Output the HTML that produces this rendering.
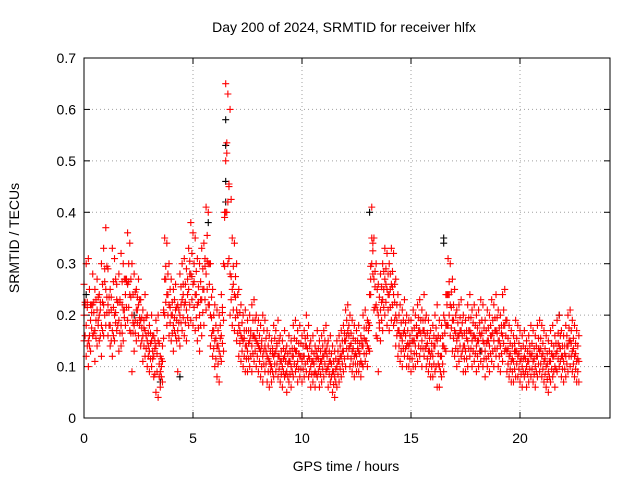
<!DOCTYPE html>
<html><head><meta charset="utf-8"><style>
html,body{margin:0;padding:0;background:#fff}
svg{display:block;font-family:"Liberation Sans",sans-serif}
</style></head><body>
<svg id="chart" width="640" height="480">
<rect width="640" height="480" fill="#fff"/>
<text x="344" y="32" text-anchor="middle" font-size="14">Day 200 of 2024, SRMTID for receiver hlfx</text>
<text x="346" y="471" text-anchor="middle" font-size="14">GPS time / hours</text>
<text transform="translate(19,238) rotate(-90)" text-anchor="middle" font-size="14">SRMTID / TECUs</text>
<g id="grid"></g><g id="ticks"></g><g id="marks"></g>
<rect x="84" y="58" width="526" height="360" fill="none" stroke="#000" stroke-width="1"/>
</svg>
<script>
const xTicks=[0,5,10,15,20];
const yTicks=[0,0.1,0.2,0.3,0.4,0.5,0.6,0.7];
const yTickLabels=["0","0.1","0.2","0.3","0.4","0.5","0.6","0.7"];
const hiVals=[.26,.30,.31,.22,.28,.25,.27,.24,.30,.33,
.37,.29,.25,.33,.31,.26,.28,.32,.30,.27,
.36,.34,.30,.28,.25,.27,.23,.21,.24,.20,
.18,.20,.16,.19,.20,.12,.14,.35,.34,.30,
.27,.25,.26,.22,.28,.30,.31,.29,.33,.38,
.36,.35,.31,.30,.33,.34,.41,.40,.30,.25,
.22,.21,.20,.24,.30,.65,.63,.60,.35,.34,
.30,.25,.22,.20,.21,.19,.20,.22,.23,.20,
.19,.18,.20,.19,.17,.16,.15,.18,.17,.19,
.16,.15,.17,.14,.16,.15,.18,.19,.17,.18,
.16,.17,.20,.18,.15,.16,.14,.17,.15,.16,
.17,.18,.15,.16,.14,.13,.15,.16,.17,.18,
.21,.22,.20,.19,.18,.17,.18,.16,.20,.21,
.19,.24,.41,.35,.30,.26,.28,.30,.33,.32,
.30,.33,.32,.27,.24,.22,.21,.23,.20,.19,
.19,.21,.20,.22,.23,.21,.24,.20,.19,.17,
.18,.20,.22,.19,.18,.20,.24,.31,.30,.27,
.25,.21,.22,.23,.20,.19,.22,.24,.21,.22,
.20,.21,.23,.22,.19,.21,.20,.23,.22,.24,
.21,.20,.24,.25,.19,.18,.17,.16,.19,.18,
.17,.16,.17,.15,.16,.18,.17,.16,.18,.19,
.18,.17,.16,.15,.17,.18,.16,.19,.20,.17,
.16,.18,.20,.21,.19,.18,.17,.16];
const midVals=[.20,.18,.15,.19,.22,.17,.21,.20,.18,.22,
.25,.22,.18,.17,.20,.23,.19,.18,.21,.24,
.26,.24,.20,.18,.21,.22,.19,.16,.17,.15,
.13,.15,.12,.14,.15,.09,.11,.27,.24,.22,
.20,.18,.21,.17,.20,.23,.22,.21,.25,.28,
.26,.24,.22,.20,.23,.25,.28,.30,.20,.17,
.15,.14,.13,.16,.19,.50,.42,.28,.25,.24,
.21,.18,.16,.15,.14,.13,.15,.14,.16,.15,
.14,.13,.12,.14,.12,.11,.10,.12,.13,.12,
.11,.10,.12,.09,.11,.10,.12,.13,.11,.12,
.11,.12,.14,.12,.10,.11,.09,.12,.10,.11,
.12,.13,.10,.11,.09,.08,.10,.11,.12,.13,
.15,.17,.14,.13,.12,.12,.13,.11,.14,.15,
.14,.18,.35,.27,.22,.20,.21,.23,.27,.25,
.24,.26,.24,.20,.17,.16,.15,.17,.14,.14,
.13,.15,.14,.16,.17,.15,.17,.14,.13,.12,
.12,.14,.15,.10,.12,.14,.18,.24,.22,.19,
.17,.15,.16,.17,.14,.13,.15,.17,.15,.16,
.14,.15,.16,.15,.13,.15,.14,.16,.15,.17,
.15,.14,.16,.18,.13,.12,.11,.11,.13,.12,
.11,.10,.12,.10,.11,.12,.11,.10,.12,.13,
.12,.11,.10,.09,.11,.12,.10,.13,.14,.12,
.11,.12,.14,.15,.13,.12,.11,.11];
const loVals=[.15,.12,.10,.13,.16,.11,.14,.15,.12,.16,
.18,.16,.14,.12,.15,.17,.13,.14,.15,.18,
.19,.17,.09,.13,.15,.16,.14,.11,.12,.10,
.09,.10,.08,.05,.04,.06,.07,.20,.18,.16,
.15,.13,.16,.09,.14,.17,.16,.15,.18,.19,
.18,.17,.15,.13,.16,.18,.21,.22,.14,.12,
.10,.08,.07,.11,.13,.40,.30,.20,.18,.17,
.15,.12,.11,.10,.09,.09,.10,.09,.11,.10,
.09,.08,.07,.09,.07,.06,.07,.08,.09,.08,
.07,.06,.08,.05,.07,.06,.08,.09,.07,.08,
.07,.08,.09,.08,.06,.07,.06,.08,.06,.07,
.08,.09,.06,.07,.05,.04,.06,.07,.08,.09,
.10,.12,.10,.09,.08,.09,.09,.08,.10,.11,
.10,.13,.30,.21,.16,.09,.15,.17,.20,.18,
.17,.19,.18,.14,.12,.11,.10,.12,.10,.10,
.09,.10,.10,.11,.12,.10,.12,.10,.09,.08,
.08,.09,.06,.06,.08,.09,.13,.18,.16,.13,
.12,.10,.11,.12,.09,.09,.10,.12,.10,.11,
.09,.10,.11,.10,.08,.10,.09,.11,.10,.12,
.10,.09,.11,.13,.09,.08,.07,.07,.08,.08,
.07,.06,.08,.06,.07,.08,.07,.06,.08,.09,
.08,.07,.06,.05,.07,.08,.06,.09,.10,.08,
.07,.08,.09,.10,.09,.08,.07,.07];
const blackHours=[6.5,6.5,6.5,6.5,5.7,16.5,16.5,13.1,21.8,3.5,0.1,4.4,2.3,18.2];
const blackVals=[.58,.53,.46,.42,.38,.35,.34,.40,.20,.07,.24,.08,.20,.13];

const NS="http://www.w3.org/2000/svg";
const X=h=>84+h*21.8;
const Y=v=>418-v*514.3;
const grid=document.getElementById('grid'),ticks=document.getElementById('ticks'),marks=document.getElementById('marks');
function mk(tag,attrs,parent){const e=document.createElementNS(NS,tag);for(const k in attrs)e.setAttribute(k,attrs[k]);parent.appendChild(e);return e;}
xTicks.forEach(t=>{
  const x=X(t);
  if(t>0){const g=mk('line',{x1:x,x2:x,y1:58,y2:418,stroke:'#a0a0a0','stroke-dasharray':'1,3'},grid);
  
  }
  mk('line',{x1:x,x2:x,y1:418,y2:412,stroke:'#000'},ticks);
  mk('line',{x1:x,x2:x,y1:58,y2:64,stroke:'#000'},ticks);
  const l=mk('text',{x:x,y:443,'text-anchor':'middle','font-size':14},ticks);l.textContent=t;
  
  
});
yTicks.forEach((t,i)=>{
  const y=Y(t);
  if(t>0&&t<0.7){const g=mk('line',{x1:84,x2:610,y1:y,y2:y,stroke:'#a0a0a0','stroke-dasharray':'1,3'},grid);
  
  }
  mk('line',{x1:84,x2:90,y1:y,y2:y,stroke:'#000'},ticks);
  mk('line',{x1:610,x2:604,y1:y,y2:y,stroke:'#000'},ticks);
  const l=mk('text',{x:76,y:y+5,'text-anchor':'end','font-size':14},ticks);l.textContent=yTickLabels[i];
  
  
});
function plus(h,v,color,name){
  const x=X(h),y=Y(v);
  const p=mk('path',{d:`M${x-3.5},${y}H${x+3.5}M${x},${y-3.5}V${y+3.5}`,stroke:color,'stroke-width':1.1,fill:'none'},marks);
  
  
}
blackHours.forEach((h,i)=>plus(h,blackVals[i],'#000','black-point'));
const series=[hiVals,midVals,loVals];
series.forEach(arr=>arr.forEach((v,i)=>plus(i*0.1,v,'#ff0000','srmtid-point')));
// interleaved samples between grid steps, taken from neighbouring series values
series.forEach((arr,s)=>{
  const other=series[(s+1)%3];
  arr.forEach((v,i)=>{ if(i+1<arr.length) plus(i*0.1+0.05,(v+other[i+1])/2,'#ff0000','srmtid-point'); });
});
</script>
</body></html>
